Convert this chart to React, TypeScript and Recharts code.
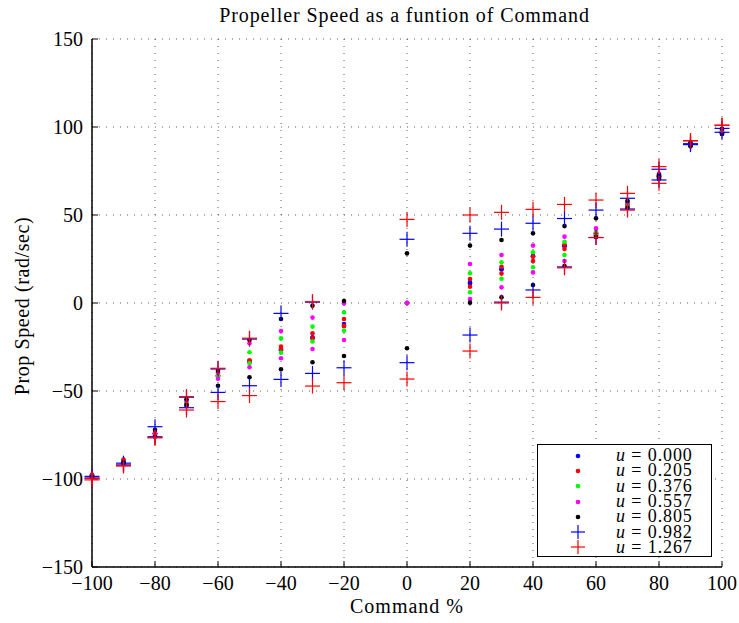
import React from "react";
import { ScatterChart, Scatter, XAxis, YAxis, CartesianGrid } from "recharts";

// commanded speed (%) – every command was visited twice (up and down sweep)
const commands = [-100, -90, -80, -70, -60, -50, -40, -30, -20, 0, 20, 30, 40, 50, 60, 70, 80, 90, 100];
const xTicks = [-100, -80, -60, -40, -20, 0, 20, 40, 60, 80, 100];
const yTicks = [-150, -100, -50, 0, 50, 100, 150];

// u = 0.000
const u000Up = [-98, -90, -74, -57.5, -41.5, -33, -26.5, -19.5, -12, 0, 11.7, 19.3, 26.7, 32.6, 39.6, 56, 72, 90, 97];
const u000Down = [-98, -90.5, -74.5, -57.5, -41.5, -33.5, -27, -20, -13, 0, 11, 19, 26.5, 32.2, 39, 56, 72, 90, 97];
// u = 0.205
const u205Up = [-97.5, -89, -74, -57, -41, -32.5, -24.8, -17.2, -9.1, 0, 13.6, 20.6, 26.3, 33.3, 40, 56.5, 72.5, 90.5, 97.5];
const u205Down = [-97.7, -89.5, -74, -58, -41.5, -33, -26, -20, -13, 0, 9.3, 16.7, 23.9, 30.7, 38.5, 55.5, 71.5, 90, 96.5];
// u = 0.376
const u376Up = [-98, -90.5, -75, -56.5, -40, -28, -20.1, -13.4, -5.3, 0, 16.9, 23.1, 28.8, 34.8, 40.9, 57, 73, 90.5, 98];
const u376Down = [-98.5, -90.5, -75, -58, -42, -34.3, -28.2, -21.9, -15.7, 0, 6.1, 13.8, 20.3, 27.3, 38, 55, 71, 89.5, 96.5];
// u = 0.557
const u557Up = [-98.5, -90.5, -74.5, -55.5, -39.5, -22.9, -15.9, -8.3, -0.2, 0, 22.2, 27.3, 32.6, 37.7, 42.4, 57.5, 73.5, 91, 98.5];
const u557Down = [-98.5, -91, -75.5, -58.5, -43, -36.5, -31.4, -26.1, -21, 0, 2.3, 8.9, 17.4, 23.9, 37.5, 54.5, 71, 89.5, 96];
// u = 0.805
const u805Up = [-98.5, -90.5, -72, -54.7, -38.5, -21, -9.1, -1.5, 1.1, 28.2, 32.6, 35.8, 39.6, 43.7, 48.1, 58, 72.7, 91, 99];
const u805Down = [-99, -91, -76, -58, -47, -42.2, -37.7, -33.7, -30.1, -25.7, 0.2, 3.2, 10.2, 21, 37.5, 54, 70.5, 89, 96];
// u = 0.982
const u982Up = [-98.5, -91, -70.3, -53.5, -37.5, -20.5, -5.9, 0.5, null, 36.2, 39.6, 42, 45.3, 48, 52.8, 59.5, 76, 90.5, 99.2];
const u982Down = [-99.5, -92, -76, -59.5, -50.8, -47, -43.4, -40, -36.8, -33.9, -18.2, 0.5, 7.4, 20.5, 37.2, 53.4, 69.9, 90, 97];
// u = 1.267
const u1267Up = [-99.5, -92.5, -76.5, -53.2, -37.1, -20, null, 0.7, null, 47.5, 50, 51.5, 53.2, 56, 58.5, 62.3, 77.5, 92.2, 101];
const u1267Down = [-100.5, -92.5, -76.5, -60.8, -56, -52.6, null, -47.2, -45.3, -43.2, -27.3, 0, 3.2, 20, 37.2, 52.8, 68, 92.2, 101];

type Marker = "dot" | "plus";

const series: { label: string; up: (number | null)[]; down: (number | null)[]; color: string; marker: Marker }[] = [
  { label: "0.000", up: u000Up, down: u000Down, color: "#0000ff", marker: "dot" },
  { label: "0.205", up: u205Up, down: u205Down, color: "#ff0000", marker: "dot" },
  { label: "0.376", up: u376Up, down: u376Down, color: "#00ff00", marker: "dot" },
  { label: "0.557", up: u557Up, down: u557Down, color: "#ff00ff", marker: "dot" },
  { label: "0.805", up: u805Up, down: u805Down, color: "#000000", marker: "dot" },
  { label: "0.982", up: u982Up, down: u982Down, color: "#0000ff", marker: "plus" },
  { label: "1.267", up: u1267Up, down: u1267Down, color: "#ff0000", marker: "plus" },
];

const toPoints = (up: (number | null)[], down: (number | null)[]) => {
  const pts: { x: number; y: number }[] = [];
  commands.forEach((c, i) => {
    if (up[i] != null) pts.push({ x: c, y: up[i] as number });
    if (down[i] != null) pts.push({ x: c, y: down[i] as number });
  });
  return pts;
};

const makeShape = (color: string, marker: Marker) => (props: any) => {
  const { cx, cy } = props;
  if (cx == null || cy == null) return <g />;
  if (marker === "dot") return <circle cx={cx} cy={cy} r={2.3} fill={color} />;
  return (
    <g stroke={color} strokeWidth={1.2}>
      <line x1={cx - 7.5} x2={cx + 7.5} y1={cy} y2={cy} />
      <line x1={cx} x2={cx} y1={cy - 7.5} y2={cy + 7.5} />
    </g>
  );
};

const MarkerIcon = ({ color, marker }: { color: string; marker: Marker }) => (
  <svg width={16} height={16} style={{ display: "block" }}>
    {marker === "dot" ? (
      <circle cx={8} cy={8} r={2.3} fill={color} />
    ) : (
      <g stroke={color} strokeWidth={1.2}>
        <line x1={1} x2={15} y1={8} y2={8} />
        <line x1={8} x2={8} y1={1} y2={15} />
      </g>
    )}
  </svg>
);

const font = "'Liberation Serif', 'Times New Roman', serif";
const fmt = (v: number) => (v < 0 ? `\u2212${-v}` : `${v}`);
const noTick = () => <g />;

const XTick = (props: any) => (
  <text x={props.x} y={props.y} dy={15} textAnchor="middle" fill="#000" fontSize={20} style={{ fontFamily: font }}>
    {fmt(props.payload.value)}
  </text>
);

const YTick = (props: any) => (
  <text x={props.x} y={props.y} dy={6.5} textAnchor="end" fill="#000" fontSize={20} style={{ fontFamily: font }}>
    {fmt(props.payload.value)}
  </text>
);

const XLabel = (props: any) => {
  const { x, width } = props.viewBox;
  return (
    <text x={x + width / 2} y={613} textAnchor="middle" fill="#000" fontSize={20} letterSpacing={1} style={{ fontFamily: font }}>
      Command %
    </text>
  );
};

const App = () => {
  return (
    <div style={{ position: "absolute", left: 0, top: 0, width: 739, height: 623, background: "#fff", fontFamily: font }}>
      <ScatterChart width={739} height={623} margin={{ top: 39, right: 17, bottom: 26, left: 32 }}>
        <CartesianGrid stroke="#333" strokeWidth={0.8} strokeDasharray="1 6" />
        <XAxis
          type="number"
          dataKey="x"
          domain={[-100, 100]}
          ticks={xTicks}
          height={30}
          tickSize={-6}
          tickMargin={14}
          axisLine={{ stroke: "#000", strokeWidth: 1.5 }}
          tickLine={{ stroke: "#000" }}
          tick={XTick}
          label={XLabel}
        />
        <XAxis
          xAxisId="top"
          orientation="top"
          type="number"
          domain={[-100, 100]}
          ticks={xTicks}
          height={0}
          tickSize={-6}
          axisLine={{ stroke: "#000", strokeWidth: 1.5 }}
          tickLine={{ stroke: "#000" }}
          tick={noTick}
        />
        <YAxis
          type="number"
          dataKey="y"
          domain={[-150, 150]}
          ticks={yTicks}
          width={60}
          tickSize={-6}
          tickMargin={15}
          axisLine={{ stroke: "#000", strokeWidth: 1.5 }}
          tickLine={{ stroke: "#000" }}
          tick={YTick}
        />
        <YAxis
          yAxisId="right"
          orientation="right"
          type="number"
          domain={[-150, 150]}
          ticks={yTicks}
          width={0}
          tickSize={-6}
          axisLine={{ stroke: "#000", strokeWidth: 1.5 }}
          tickLine={{ stroke: "#000" }}
          tick={noTick}
        />
        {series.map((s) => (
          <Scatter
            key={s.label}
            name={`u = ${s.label}`}
            data={toPoints(s.up, s.down)}
            shape={makeShape(s.color, s.marker)}
            isAnimationActive={false}
          />
        ))}
      </ScatterChart>

      <div
        style={{
          position: "absolute",
          left: 0,
          width: 739,
          top: 4,
          textAlign: "center",
          paddingLeft: 70,
          boxSizing: "border-box",
          fontSize: 20,
          letterSpacing: 0.9,
          whiteSpace: "nowrap",
        }}
      >
        Propeller Speed as a funtion of Command
      </div>

      <div
        style={{
          position: "absolute",
          left: 22,
          top: 306,
          transform: "translate(-50%, -50%) rotate(-90deg)",
          whiteSpace: "nowrap",
          fontSize: 20,
          letterSpacing: 0.6,
        }}
      >
        Prop Speed (rad/sec)
      </div>

      <div
        style={{
          position: "absolute",
          left: 537,
          top: 444,
          width: 175,
          height: 113,
          boxSizing: "border-box",
          border: "1.5px solid #000",
          background: "#fff",
          paddingTop: 3,
        }}
      >
        {series.map((s) => (
          <div key={s.label} style={{ display: "flex", alignItems: "center", height: 15.3 }}>
            <div style={{ width: 76, display: "flex", justifyContent: "center", paddingLeft: 2 }}>
              <MarkerIcon color={s.color} marker={s.marker} />
            </div>
            <div style={{ fontSize: 18, lineHeight: "15px", whiteSpace: "nowrap", letterSpacing: 0.9 }}>
              <i>u</i> = {s.label}
            </div>
          </div>
        ))}
      </div>
    </div>
  );
};

export default App;
